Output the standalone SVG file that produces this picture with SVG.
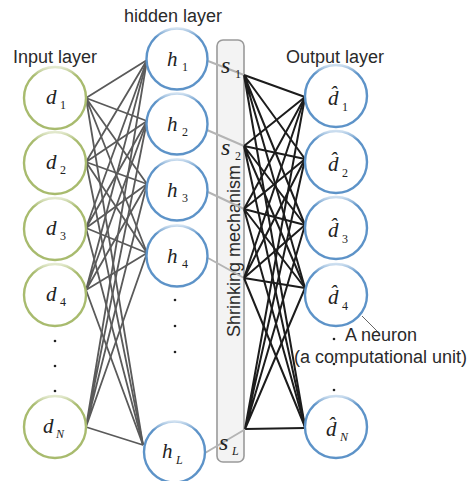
<svg xmlns="http://www.w3.org/2000/svg" width="473" height="481" viewBox="0 0 473 481">
  <defs>
    <linearGradient id="gGreen" x1="0" y1="0" x2="0" y2="1">
      <stop offset="0" stop-color="#e4ead0"/>
      <stop offset="0.14" stop-color="#a8bb6e"/>
      <stop offset="1" stop-color="#a8bb6e"/>
    </linearGradient>
    <linearGradient id="gBlue" x1="0" y1="0" x2="0" y2="1">
      <stop offset="0" stop-color="#cfe0f0"/>
      <stop offset="0.14" stop-color="#5d93c8"/>
      <stop offset="1" stop-color="#5d93c8"/>
    </linearGradient>
  </defs>
  <style>
    .in { fill: #ffffff; stroke: url(#gGreen); stroke-width: 2.4; }
    .hid, .out { fill: #ffffff; stroke: url(#gBlue); stroke-width: 2.4; }
    .w1 { stroke: #5a5a5a; stroke-width: 1.8; fill: none; }
    .w2 { stroke: #b4b4b4; stroke-width: 2; fill: none; }
    .w3 { stroke: #1c1c1c; stroke-width: 2; fill: none; }
    .cap { font-family: "Liberation Sans", Arial, sans-serif; font-size: 18px; fill: #2a2a2a; }
    .v { font-family: "Liberation Serif", "Times New Roman", serif; font-style: italic; font-size: 21px; fill: #222; }
    .sv { font-size: 24px; }
    .sub { font-style: normal; font-size: 12px; }
    .subi { font-style: italic; font-size: 12px; }
    .dot { fill: #222; }
  </style>

  <!-- captions -->
  <text class="cap" x="124" y="22">hidden layer</text>
  <text class="cap" x="13" y="63">Input layer</text>
  <text class="cap" x="286" y="63">Output layer</text>

  <!-- shrinking block (behind its incoming lines) -->
  <g id="shrink">
    <rect x="217" y="40" width="27" height="422" rx="6" fill="#f3f3f3" stroke="#9a9a9a" stroke-width="1.6"/>
    <text class="cap" transform="translate(240,251) rotate(-90)" text-anchor="middle">Shrinking mechanism</text>
  </g>

  <g id="connectors">
    <!-- input -> hidden -->
    <g class="w1">
      <path d="M86 98L147 60M86 98L147 121M86 98L147 184M86 98L147 253M86 98L143 445"/>
      <path d="M86 162L147 60M86 162L147 121M86 162L147 184M86 162L147 253M86 162L143 445"/>
      <path d="M86 228L147 60M86 228L147 121M86 228L147 184M86 228L147 253M86 228L143 445"/>
      <path d="M86 290L147 60M86 290L147 121M86 290L147 184M86 290L147 253M86 290L143 445"/>
      <path d="M86 427L147 60M86 427L147 121M86 427L147 184M86 427L147 253M86 427L143 445"/>
    </g>
    <!-- hidden -> shrinking -->
    <g class="w2">
      <path d="M208 61L244 75M207 130L244 146M208 192L244 209M208 258L244 278M205 453L244 430"/>
    </g>
    <!-- shrinking -> output -->
    <g class="w3">
      <path d="M244 75L305 97M244 75L305 159M244 75L305 225M244 75L305 288M244 75L305 427"/>
      <path d="M244 146L305 97M244 146L305 159M244 146L305 225M244 146L305 288M244 146L305 427"/>
      <path d="M244 209L305 97M244 209L305 159M244 209L305 225M244 209L305 288M244 209L305 427"/>
      <path d="M244 278L305 97M244 278L305 159M244 278L305 225M244 278L305 288M244 278L305 427"/>
      <path d="M245 429L305 97M245 429L305 159M245 429L305 225M245 429L305 288M245 429L305 428"/>
    </g>
    <!-- callout -->
    <path d="M362 316L379 333" stroke="#666" stroke-width="1" fill="none"/>
  </g>

  <!-- shrink outputs -->
  <g id="s-labels">
    <text class="v sv" x="221" y="73">s<tspan class="sub" x="235" y="78">1</tspan></text>
    <text class="v sv" x="221" y="155">s<tspan class="sub" x="235" y="160">2</tspan></text>
    <text class="v sv" x="219" y="450">s<tspan class="subi" x="232" y="455">L</tspan></text>
  </g>

  <!-- input layer -->
  <g id="d1"><circle class="in" cx="55" cy="98" r="31"/><text class="v" x="46" y="104">d<tspan class="sub" x="60" y="109">1</tspan></text></g>
  <g id="d2"><circle class="in" cx="55" cy="163" r="31"/><text class="v" x="46" y="169">d<tspan class="sub" x="60" y="174">2</tspan></text></g>
  <g id="d3"><circle class="in" cx="55" cy="229" r="31"/><text class="v" x="46" y="235">d<tspan class="sub" x="60" y="240">3</tspan></text></g>
  <g id="d4"><circle class="in" cx="55" cy="295" r="31"/><text class="v" x="46" y="301">d<tspan class="sub" x="60" y="306">4</tspan></text></g>
  <g id="dN"><circle class="in" cx="55" cy="427" r="31"/><text class="v" x="43" y="433">d<tspan class="subi" x="56" y="438">N</tspan></text></g>
  <g id="input-dots"><circle class="dot" cx="55" cy="341" r="1.3"/><circle class="dot" cx="55" cy="366" r="1.3"/><circle class="dot" cx="55" cy="391" r="1.3"/></g>

  <!-- hidden layer -->
  <g id="h1"><circle class="hid" cx="177" cy="59" r="30.5"/><text class="v" x="167" y="66">h<tspan class="sub" x="182" y="71">1</tspan></text></g>
  <g id="h2"><circle class="hid" cx="177" cy="124" r="30.5"/><text class="v" x="167" y="131">h<tspan class="sub" x="182" y="136">2</tspan></text></g>
  <g id="h3"><circle class="hid" cx="177" cy="190" r="30.5"/><text class="v" x="167" y="197">h<tspan class="sub" x="182" y="202">3</tspan></text></g>
  <g id="h4"><circle class="hid" cx="177" cy="256" r="30.5"/><text class="v" x="167" y="263">h<tspan class="sub" x="182" y="268">4</tspan></text></g>
  <g id="hL"><circle class="hid" cx="174.5" cy="452" r="30.5"/><text class="v" x="162" y="458">h<tspan class="subi" x="176" y="464">L</tspan></text></g>
  <g id="hidden-dots"><circle class="dot" cx="175" cy="300" r="1.3"/><circle class="dot" cx="175" cy="326" r="1.3"/><circle class="dot" cx="175" cy="352" r="1.3"/></g>

  <!-- output layer: d with combining circumflex -->
  <g id="o1"><circle class="out" cx="336" cy="96" r="31"/><text class="v" x="328" y="105">d&#x302;<tspan class="sub" x="342" y="111">1</tspan></text></g>
  <g id="o2"><circle class="out" cx="336" cy="162" r="31"/><text class="v" x="328" y="171">d&#x302;<tspan class="sub" x="342" y="177">2</tspan></text></g>
  <g id="o3"><circle class="out" cx="336" cy="228" r="31"/><text class="v" x="328" y="237">d&#x302;<tspan class="sub" x="342" y="243">3</tspan></text></g>
  <g id="o4"><circle class="out" cx="336" cy="295" r="31"/><text class="v" x="328" y="304">d&#x302;<tspan class="sub" x="342" y="310">4</tspan></text></g>
  <g id="oN"><circle class="out" cx="336" cy="427" r="31"/><text class="v" x="326" y="436">d&#x302;<tspan class="subi" x="340" y="441">N</tspan></text></g>
  <g id="output-dots"><circle class="dot" cx="334" cy="339" r="1.3"/><circle class="dot" cx="334" cy="364" r="1.3"/><circle class="dot" cx="334" cy="390" r="1.3"/></g>

  <!-- neuron note -->
  <text class="cap" x="345" y="341">A neuron</text>
  <text class="cap" x="294" y="363">(a computational unit)</text>
</svg>
